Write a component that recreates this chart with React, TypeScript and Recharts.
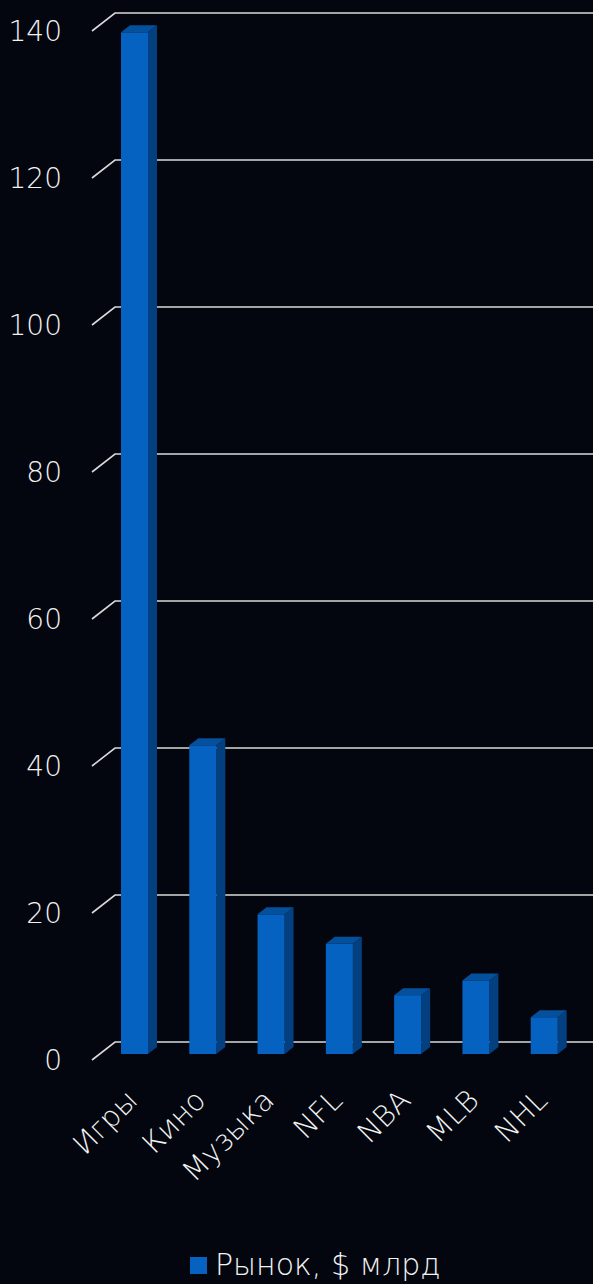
import { BarChart, Bar, XAxis, YAxis, CartesianGrid } from 'recharts';

const categories = ['Игры', 'Кино', 'Музыка', 'NFL', 'NBA', 'MLB', 'NHL'];
const market = [139, 42, 19, 15, 8, 10, 5];
const yTicks = [0, 20, 40, 60, 80, 100, 120, 140];
const seriesName = 'Рынок, $ млрд';

const data = categories.map((name, i) => ({ name, market: market[i] }));

const BG = '#03060e';
const FONT = '"DejaVu Sans ExtraLight", "DejaVu Sans", sans-serif';
// depth of the 3d floor/back wall
const WALL_DX = 23;
const WALL_DY = -18;
// bar sits a bit inside the floor, with its own depth
const BAR_DX = 8;
const BAR_DY = -6;
const DEPTH_X = 9;
const DEPTH_Y = -7;

if (typeof document !== 'undefined') {
  document.body.style.margin = '0';
  document.body.style.background = BG;
}

function Bar3D(props: any) {
  const { x, y, width, height } = props;
  if (!height || height <= 0) return null;
  const fx = x + BAR_DX;
  const fy = y + BAR_DY;
  const w = width;
  const h = height;
  const top = `${fx},${fy} ${fx + DEPTH_X},${fy + DEPTH_Y} ${fx + w + DEPTH_X},${fy + DEPTH_Y} ${fx + w},${fy}`;
  const side = `${fx + w},${fy} ${fx + w + DEPTH_X},${fy + DEPTH_Y} ${fx + w + DEPTH_X},${fy + h + DEPTH_Y} ${fx + w},${fy + h}`;
  return (
    <g>
      <polygon points={side} fill="#043f80" />
      <polygon points={top} fill="#05509c" />
      <rect x={fx} y={fy} width={w} height={h} fill="#0562c0" />
    </g>
  );
}

function gridLine(props: any) {
  const { x1, y1, index } = props;
  const pts = `${x1},${y1} ${x1 + WALL_DX},${y1 + WALL_DY} 593,${y1 + WALL_DY}`;
  return <polyline key={`g-${index}-${y1}`} points={pts} fill="none" stroke="#d9d9d9" strokeWidth={1.6} />;
}

function YTick(props: any) {
  const { y, payload } = props;
  return (
    <text x={62} y={y} dy="0.36em" textAnchor="end" fill="#f2f2f2" fontSize={28} fontFamily={FONT} fontWeight={200}>
      {payload.value}
    </text>
  );
}

function XTick(props: any) {
  const { x, y, payload } = props;
  return (
    <g transform={`translate(${x + 13},${y + 34})`}>
      <text x={0} y={0} textAnchor="end" transform="rotate(-45)" fill="#f2f2f2" fontSize={29} fontFamily={FONT} fontWeight={200}>
        {payload.value}
      </text>
    </g>
  );
}

export default function App() {
  return (
    <div style={{ position: 'relative', width: 593, height: 1284, background: BG }}>
      <BarChart
        width={593}
        height={1284}
        data={data}
        margin={{ top: 31, right: 23, left: 0, bottom: 74 }}
        barSize={27}
      >
        <CartesianGrid vertical={false} horizontal={gridLine} />
        <YAxis
          width={92}
          domain={[0, 140]}
          ticks={yTicks}
          axisLine={false}
          tickLine={false}
          tick={<YTick />}
          interval={0}
        />
        <XAxis dataKey="name" height={150} axisLine={false} tickLine={false} tick={<XTick />} interval={0} />
        <Bar dataKey="market" name={seriesName} fill="#0562c0" shape={<Bar3D />} isAnimationActive={false} />
      </BarChart>
      <div
        style={{
          position: 'absolute',
          left: 190,
          top: 1250,
          display: 'flex',
          alignItems: 'center',
          gap: 8,
          fontFamily: FONT,
          fontWeight: 200,
          fontSize: 30,
          color: '#f2f2f2',
          lineHeight: '30px',
          whiteSpace: 'nowrap',
        }}
      >
        <span style={{ display: 'inline-block', width: 17, height: 17, background: '#0562c0' }} />
        <span>{seriesName}</span>
      </div>
    </div>
  );
}
